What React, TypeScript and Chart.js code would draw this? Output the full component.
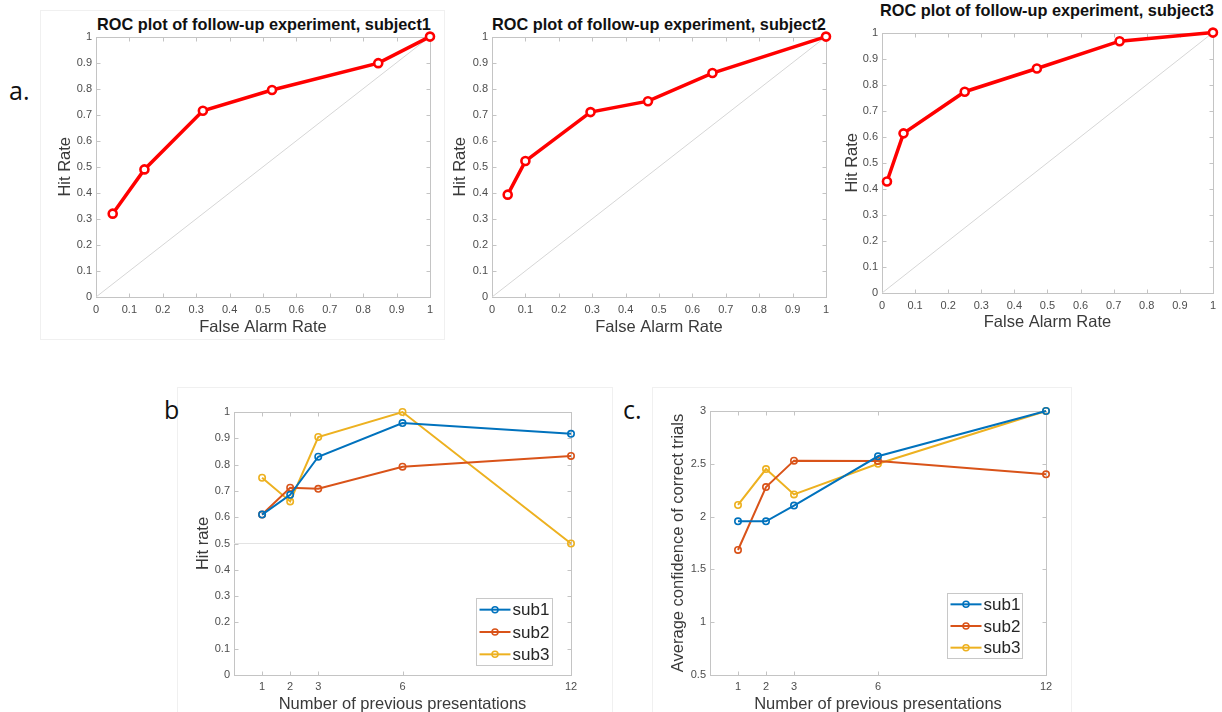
import React, { useEffect, useRef } from "react";
import { Chart, registerables } from "chart.js";
Chart.register(...registerables);

// ---------- data ----------
const rocTitles = [
  "ROC plot of follow-up experiment, subject1",
  "ROC plot of follow-up experiment, subject2",
  "ROC plot of follow-up experiment, subject3",
];
const s1FalseAlarm = [0.05, 0.145, 0.32, 0.527, 0.845, 1];
const s1Hit = [0.32, 0.49, 0.715, 0.795, 0.898, 1];
const s2FalseAlarm = [0.047, 0.1, 0.295, 0.467, 0.66, 1];
const s2Hit = [0.393, 0.522, 0.71, 0.752, 0.86, 1];
const s3FalseAlarm = [0.015, 0.065, 0.25, 0.468, 0.718, 1];
const s3Hit = [0.428, 0.613, 0.773, 0.862, 0.967, 1];
const chanceLine = [0, 1];

const presentations = [1, 2, 3, 6, 12];
const subLabels = ["sub1", "sub2", "sub3"];
const hitSub1 = [0.61, 0.685, 0.83, 0.958, 0.917];
const hitSub2 = [0.61, 0.712, 0.708, 0.792, 0.833];
const hitSub3 = [0.75, 0.66, 0.905, 1.0, 0.5];
const hitRefX = [0, 12];
const hitRefY = [0.5, 0.5];
const confSub1 = [1.955, 1.955, 2.104, 2.571, 3.0];
const confSub2 = [1.684, 2.28, 2.53, 2.527, 2.4];
const confSub3 = [2.11, 2.45, 2.21, 2.5, 3.0];

// ---------- styles ----------
const FONT = "'Liberation Sans', Arial, Helvetica, sans-serif";
const TICK = "#4d4d4d";
const AXT = "#3a3a3a";
const BOX = "#c4c4c4";
const RED = "#ff0000";
const SUB_COLORS = ["#0072BD", "#D95319", "#EDB120"];
const AX_TITLE_SIZE = 16.5;
const TICK_SIZE = 11;
const LH = AX_TITLE_SIZE * 1.2;

type Rect = { left: number; top: number; width: number; height: number };
type Area = { left: number; right: number; top: number; bottom: number };

const fmt = (v: any) => String(parseFloat(Number(v).toFixed(2)));

const boxPlugin = {
  id: "mbox",
  beforeDatasetsDraw(chart: any) {
    const { ctx, chartArea: a, scales } = chart;
    ctx.save();
    ctx.strokeStyle = BOX;
    ctx.lineWidth = 1;
    const l = Math.round(a.left) + 0.5;
    const r = Math.round(a.right) + 0.5;
    const t = Math.round(a.top) + 0.5;
    const b = Math.round(a.bottom) + 0.5;
    ctx.strokeRect(l, t, r - l, b - t);
    ctx.beginPath();
    scales.x.ticks.forEach((tk: any) => {
      const px = Math.round(scales.x.getPixelForValue(tk.value)) + 0.5;
      ctx.moveTo(px, b);
      ctx.lineTo(px, b - 4);
      ctx.moveTo(px, t);
      ctx.lineTo(px, t + 4);
    });
    scales.y.ticks.forEach((tk: any) => {
      const py = Math.round(scales.y.getPixelForValue(tk.value)) + 0.5;
      ctx.moveTo(l, py);
      ctx.lineTo(l + 4, py);
      ctx.moveTo(r, py);
      ctx.lineTo(r - 4, py);
    });
    ctx.stroke();
    ctx.restore();
  },
};

const legendPlugin = {
  id: "mlegend",
  afterDatasetsDraw(chart: any, _args: any, opts: any) {
    if (!opts || !opts.show) return;
    const { ctx, chartArea: a } = chart;
    const w = opts.w;
    const h = opts.h;
    const left = Math.round(a.right - opts.insetRight - w) + 0.5;
    const top = Math.round(a.bottom - opts.insetBottom - h) + 0.5;
    ctx.save();
    ctx.fillStyle = "#ffffff";
    ctx.fillRect(left, top, w, h);
    ctx.strokeStyle = "#c8c8c8";
    ctx.lineWidth = 1;
    ctx.strokeRect(left, top, w, h);
    const ds = chart.data.datasets.filter((d: any) => subLabels.includes(d.label));
    ds.forEach((d: any, i: number) => {
      const cy = top + (h * (i + 0.5)) / 3;
      ctx.strokeStyle = d.borderColor;
      ctx.lineWidth = 2;
      ctx.beginPath();
      ctx.moveTo(left + 3, cy);
      ctx.lineTo(left + 34, cy);
      ctx.stroke();
      ctx.lineWidth = 1.5;
      ctx.beginPath();
      ctx.arc(left + 18.5, cy, 3, 0, Math.PI * 2);
      ctx.stroke();
      ctx.fillStyle = "#262626";
      ctx.font = `17px ${FONT}`;
      ctx.textBaseline = "middle";
      ctx.textAlign = "left";
      ctx.fillText(d.label, left + 36, cy + 1);
    });
    ctx.restore();
  },
};

function xScale(c: Rect, a: Area, o: any) {
  const xh = c.top + c.height - a.bottom;
  return {
    type: "linear",
    position: "bottom",
    min: o.min,
    max: o.max,
    grid: { display: false, drawTicks: false },
    border: { display: false },
    ticks: {
      stepSize: o.stepSize,
      color: TICK,
      font: { family: FONT, size: TICK_SIZE },
      padding: o.tickPad,
      maxRotation: 0,
      autoSkip: false,
      callback: fmt,
    },
    afterBuildTicks: o.fixedTicks
      ? (s: any) => {
          s.ticks = o.fixedTicks.map((v: number) => ({ value: v }));
        }
      : undefined,
    title: {
      display: true,
      text: o.title,
      color: AXT,
      font: { family: FONT, size: AX_TITLE_SIZE },
      padding: { top: 0, bottom: c.top + c.height - o.titleCy - LH / 2 },
    },
    afterFit: (s: any) => {
      s.height = xh;
    },
  };
}

function yScale(c: Rect, a: Area, o: any) {
  const yw = a.left - c.left;
  return {
    type: "linear",
    position: "left",
    min: o.min,
    max: o.max,
    grid: { display: false, drawTicks: false },
    border: { display: false },
    ticks: {
      stepSize: o.stepSize,
      color: TICK,
      font: { family: FONT, size: TICK_SIZE },
      padding: 4,
      autoSkip: false,
      callback: fmt,
    },
    title: {
      display: true,
      text: o.title,
      color: AXT,
      font: { family: FONT, size: AX_TITLE_SIZE },
      padding: { top: o.titleCx - c.left - LH / 2, bottom: 0 },
    },
    afterFit: (s: any) => {
      s.width = yw;
    },
  };
}

function baseOptions(c: Rect, a: Area, scales: any, legend: any) {
  return {
    responsive: false,
    animation: false,
    devicePixelRatio: 1,
    layout: {
      padding: {
        left: 0,
        top: a.top - c.top,
        right: c.left + c.width - a.right,
        bottom: 0,
      },
    },
    scales,
    plugins: {
      legend: { display: false },
      tooltip: { enabled: false },
      title: { display: false },
      mlegend: legend,
    },
  };
}

function rocConfig(c: Rect, a: Area, far: number[], hit: number[], yCx: number, xCy: number, tickPad: number) {
  return {
    type: "line",
    data: {
      datasets: [
        {
          label: "roc",
          data: far.map((x, i) => ({ x, y: hit[i] })),
          borderColor: RED,
          borderWidth: 3.5,
          pointRadius: 4,
          pointBorderWidth: 2.6,
          pointBackgroundColor: "#ffffff",
          pointBorderColor: RED,
          tension: 0,
          clip: false,
        },
        {
          label: "chance",
          data: chanceLine.map((v) => ({ x: v, y: v })),
          borderColor: "#d6d6d6",
          borderWidth: 1,
          pointRadius: 0,
          tension: 0,
        },
      ],
    },
    options: baseOptions(
      c,
      a,
      {
        x: xScale(c, a, { min: 0, max: 1, stepSize: 0.1, tickPad, title: "False Alarm Rate", titleCy: xCy }),
        y: yScale(c, a, { min: 0, max: 1, stepSize: 0.1, title: "Hit Rate", titleCx: yCx }),
      },
      { show: false }
    ),
    plugins: [boxPlugin],
  };
}

function subDatasets(series: number[][]) {
  return series.map((vals, i) => ({
    label: subLabels[i],
    data: presentations.map((x, j) => ({ x, y: vals[j] })),
    borderColor: SUB_COLORS[i],
    borderWidth: 2,
    pointRadius: 3.2,
    pointBorderWidth: 1.6,
    pointBackgroundColor: "rgba(0,0,0,0)",
    pointBorderColor: SUB_COLORS[i],
    tension: 0,
    clip: false,
  }));
}

function hitConfig(c: Rect, a: Area) {
  return {
    type: "line",
    data: {
      datasets: [
        ...subDatasets([hitSub1, hitSub2, hitSub3]),
        {
          label: "ref",
          data: hitRefX.map((x, i) => ({ x, y: hitRefY[i] })),
          borderColor: "#e3e3e3",
          borderWidth: 1,
          pointRadius: 0,
        },
      ],
    },
    options: baseOptions(
      c,
      a,
      {
        x: xScale(c, a, { min: 0, max: 12, fixedTicks: presentations, tickPad: 5, title: "Number of previous presentations", titleCy: 704 }),
        y: yScale(c, a, { min: 0, max: 1, stepSize: 0.1, title: "Hit rate", titleCx: 203 }),
      },
      { show: true, w: 76, h: 67, insetRight: 19, insetBottom: 10 }
    ),
    plugins: [boxPlugin, legendPlugin],
  };
}

function confConfig(c: Rect, a: Area) {
  return {
    type: "line",
    data: { datasets: subDatasets([confSub1, confSub2, confSub3]) },
    options: baseOptions(
      c,
      a,
      {
        x: xScale(c, a, { min: 0, max: 12, fixedTicks: presentations, tickPad: 5, title: "Number of previous presentations", titleCy: 704 }),
        y: yScale(c, a, { min: 0.5, max: 3, stepSize: 0.5, title: "Average confidence of correct trials", titleCx: 678 }),
      },
      { show: true, w: 75, h: 65, insetRight: 24, insetBottom: 17 }
    ),
    plugins: [boxPlugin, legendPlugin],
  };
}

function ChartCanvas({ rect, area, build }: { rect: Rect; area: Area; build: (c: Rect, a: Area) => any }) {
  const ref = useRef<HTMLCanvasElement | null>(null);
  useEffect(() => {
    if (!ref.current) return;
    const chart = new Chart(ref.current, build(rect, area));
    return () => chart.destroy();
  }, []);
  return (
    <canvas
      ref={ref}
      width={rect.width}
      height={rect.height}
      style={{ position: "absolute", left: rect.left, top: rect.top, width: rect.width, height: rect.height }}
    />
  );
}

function Title({ text, cx, cy }: { text: string; cx: number; cy: number }) {
  return (
    <div
      style={{
        position: "absolute",
        left: cx - 220,
        width: 440,
        top: cy - 10,
        lineHeight: "20px",
        textAlign: "center",
        fontFamily: FONT,
        fontWeight: "bold",
        fontSize: 16.3,
        color: "#111",
        whiteSpace: "nowrap",
      }}
    >
      {text}
    </div>
  );
}

function PanelLabel({ text, left, top }: { text: string; left: number; top: number }) {
  return (
    <div
      style={{
        position: "absolute",
        left,
        top,
        lineHeight: "26px",
        fontFamily: "'Open Sans', 'Noto Sans', sans-serif",
        fontSize: 25,
        color: "#111",
      }}
    >
      {text}
    </div>
  );
}

const panelBorder = (left: number, top: number, width: number, height: number) => (
  <div
    style={{
      position: "absolute",
      left,
      top,
      width,
      height,
      border: "1px solid #f0f0f0",
      boxSizing: "border-box",
    }}
  />
);

export default function App() {
  const r1: Rect = { left: 40, top: 26, width: 410, height: 314 };
  const a1: Area = { left: 96, right: 430, top: 36, bottom: 297 };
  const r2: Rect = { left: 450, top: 26, width: 390, height: 314 };
  const a2: Area = { left: 492, right: 826, top: 36, bottom: 297 };
  const r3: Rect = { left: 836, top: 22, width: 386, height: 314 };
  const a3: Area = { left: 882, right: 1217, top: 32, bottom: 293 };
  const rb: Rect = { left: 180, top: 400, width: 410, height: 312 };
  const ab: Area = { left: 234, right: 571, top: 412, bottom: 675 };
  const rc: Rect = { left: 650, top: 400, width: 410, height: 312 };
  const ac: Area = { left: 710, right: 1046, top: 411, bottom: 675 };

  return (
    <div style={{ position: "absolute", left: 0, top: 0, width: 1222, height: 712, background: "#fff", overflow: "hidden" }}>
      {panelBorder(40, 10, 405, 330)}
      {panelBorder(177, 387, 436, 330)}
      {panelBorder(652, 387, 420, 330)}
      <PanelLabel text="a." left={9} top={77} />
      <PanelLabel text="b" left={164} top={396} />
      <PanelLabel text="c." left={623} top={396} />
      <Title text={rocTitles[0]} cx={264} cy={24} />
      <Title text={rocTitles[1]} cx={659} cy={24} />
      <Title text={rocTitles[2]} cx={1047} cy={10} />
      <ChartCanvas rect={r1} area={a1} build={(c, a) => rocConfig(c, a, s1FalseAlarm, s1Hit, 65, 327, 6)} />
      <ChartCanvas rect={r2} area={a2} build={(c, a) => rocConfig(c, a, s2FalseAlarm, s2Hit, 460, 327, 6)} />
      <ChartCanvas rect={r3} area={a3} build={(c, a) => rocConfig(c, a, s3FalseAlarm, s3Hit, 852, 322, 6)} />
      <ChartCanvas rect={rb} area={ab} build={hitConfig} />
      <ChartCanvas rect={rc} area={ac} build={confConfig} />
    </div>
  );
}
